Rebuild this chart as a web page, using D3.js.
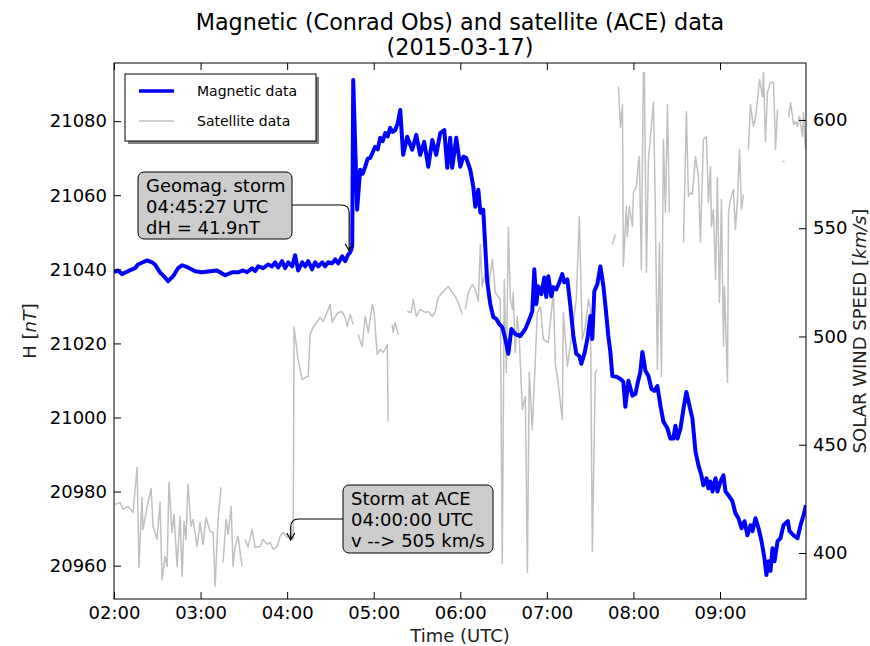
<!DOCTYPE html>
<html>
<head>
<meta charset="utf-8">
<script src="https://cdn.jsdelivr.net/npm/d3@7"></script>
<style>
  html, body { margin: 0; padding: 0; background: #fff; }
  svg { display: block; font-family: "DejaVu Sans", sans-serif; }
</style>
</head>
<body>
<svg id="chart" width="870" height="646"></svg>
<script>
// ---------------- DATA ----------------
// Magnetic H component (Conrad Obs), minutes after 02:00 UTC and value in nT
const magMinutes = [0,2.8,5.5,9.7,14.6,16.6,20.1,22.9,26.4,28.4,31.9,35.4,37.5,40.9,44.4,47.2,51.3,56.2,61,66.6,
  71.4,73.5,77,81.8,86,89.5,92.2,95.7,97.8,99.9,103.3,106.8,109.6,111.7,113.7,116.5,118.6,120.7,123.5,125.5,
  127.6,130.4,132.5,134.6,137.3,139.4,141.5,144.3,146.3,148.4,151.2,153.3,155.4,158.1,160.2,162.3,163.7,165.1,
  165.8,168.5,170.6,172.3,174.1,175.8,177.6,179.3,181,182.8,184.5,186.2,188,189.7,191.4,193.1,194.9,196.6,198.4,200.4,203.2,206.7,209.5,212.2,215,217.8,220.6,
  223.3,226.1,228.9,231,233,234.4,237.2,240,242.1,244.1,246.9,249,250.4,252.5,253.9,255.9,257.3,258.7,260.8,
  262.9,265,267,269.1,271.2,273.3,275.4,278.1,281.6,285.1,288.5,289.9,291.3,292.7,294.1,296.2,298.2,299.6,301,
  303.1,304.5,306.6,308.7,310.7,312.1,314.2,316.3,318.4,320.4,322.5,323.9,326,328.1,330.2,331.5,332.9,335,337.1,
  339.2,340.6,342.6,344,345.4,348.2,351,353,354.4,356.5,359.3,361.4,362.8,364.8,366.2,368.3,370.4,372.5,374.5,
  376.6,378.7,380.8,383.6,385.6,387.7,389.1,390.5,392.6,394.7,396.7,398.8,400.9,403,405.1,407.1,408.5,410.6,412,
  413.4,414.8,416.9,418.2,420.3,422.4,423.8,425.9,428.6,430.7,432.8,434.9,437,439,441.1,442.5,444.6,446.7,448.8,
  450.8,452.2,453.6,455,456.4,457.8,459.9,461.9,464,467,468.2,471,473.7,475.8,477.9,479.6];
const magH = [21039.2,21039.7,21038.7,21039.5,21040.3,21041.3,21041.9,21042.4,21041.9,21041.3,21039.2,21037.8,21036.8,21038.1,21040.3,21041.1,21040.5,21039.5,21039.2,21039.5,
  21039.7,21039.2,21038.4,21039.2,21039.2,21039.7,21039.2,21040.3,21039.5,21040.8,21040.3,21041.3,21040.8,21041.9,21040.5,21042.2,21040.3,21041.9,21040.8,21043.8,
  21039.7,21041.9,21040.8,21042.2,21040,21041.9,21040.8,21041.9,21040.8,21041.9,21041.6,21042.7,21041.6,21043.5,21042.2,21044,21044.6,21046.2,
  21091.1,21056.1,21066.9,21065.8,21067.7,21069.8,21070.1,21071.6,21073.1,21072.4,21075.5,21074.6,21076.8,21075.9,21078.2,21077.1,21077.6,21079.4,21083,21070.9,21075.8,21072.3,21076.3,21070.9,21074.4,21067.7,21074.9,
  21070.9,21076.8,21077.6,21067.4,21075.5,21067.4,21075.5,21067.7,21070.4,21070.1,21066.9,21062.3,21056.9,21061.5,21055.3,21056.1,21046.2,21036.5,21030.6,
  21027.1,21026.6,21025.2,21024.4,21021.2,21017.2,21023.9,21022.5,21022,21023.9,21027.1,21028.7,21040,21030.6,21035.4,21033.3,21037.8,21032.5,21038.1,
  21032.7,21035.2,21034.6,21036.5,21038.7,21036.5,21037.3,21030.1,21022,21017.2,21016.6,21014.5,21017.2,21021.2,21027.4,21021.2,21034.1,21036,21040.8,
  21035.4,21030.1,21022,21017.7,21011.2,21011,21010.4,21009.6,21002.9,21009.9,21005.9,21006.4,21009.1,21012.3,21017.7,21012.6,21011.2,21007.7,21007.2,
  21008.5,21003.2,20998.9,20997,20994.3,20994.3,20997.8,20994.3,20997,21002.4,21006.9,21003.2,20999.7,20990.8,20987,20984.4,20981.7,20983.6,20980.9,
  20982.7,20980,20983.6,20980,20982.7,20984.4,20980,20979,20977.4,20974.1,20972.8,20970.1,20972,20968.2,20970.9,20969.3,20972.8,20970.1,20966.6,
  20962,20957.5,20961.2,20958.6,20964.7,20961.2,20966.6,20967.4,20970.9,20972,20969.3,20968.2,20967.4,20970.9,20973.6,20976.3];

// Solar wind speed (ACE), minutes after 02:00 UTC and km/s (null = data gap)
const aceMinutes = [0.7,4.2,6.2,9.7,13.2,16,17.3,19.4,20.1,22.9,25.7,27.1,29.8,31.9,33.3,35.4,36.8,38.1,40.2,41.6,
  43.7,45.8,47.2,48.6,49.9,51.3,53.4,54.8,57.6,59.6,61.7,63.8,66.6,68.7,70.1,72.1,74.2,74.9,75.6,77.7,79.1,81.2,
  82.5,83.9,86,88.8,89.8,90.9,92.9,95.7,97.8,101.3,103.3,106.1,108.2,110.3,113.1,115.1,117.2,120,122.1,124.2,124.8,
  127.6,130.4,132.5,134.6,135.9,138,140.8,142.9,145,147.7,149.8,151.2,153.3,155.4,158.1,160.2,161.6,163.7,165.8,
  167.5,169.2,172,174.1,176.2,179,180.3,182.4,184.5,186.6,189.4,190,191.4,192.8,193.5,194.9,197,200,203.2,206,
  207.4,209.5,212.2,215.7,217.8,220.6,222.6,224.7,227.5,229.6,231.7,234.4,236.5,238.6,241.4,242.4,243.5,245.5,
  248.3,250.4,252.5,253.9,255.2,257.3,259.4,262.2,264.3,267.7,269.1,270.5,271.9,273.3,274.7,276.1,276.7,278.1,
  279.5,280.9,283,285.1,286.5,287.8,289.9,293.4,295.5,297.6,301,304.5,305.9,307.3,310.7,311.4,314.2,317.7,320.4,
  322.5,324.6,326.7,328.8,330.2,331.5,333.6,335,340,345.4,347.5,348.5,349.6,351,352.4,353,355.1,355.8,357.2,359.3,
  360,362.1,363.4,364.1,365.5,366.9,367.6,369,370.4,371.8,373.9,375.2,376.6,378,379.4,380.8,382.2,383.6,384.9,
  390,394.7,396.7,398.1,399.5,400.9,403,405.1,406.4,408.5,410.6,412,413.4,414.1,415.5,416.9,418.2,419.6,421,
  422.4,423.1,425.2,425.9,427.3,429.3,430.7,432.1,433.5,434.9,436.3,438,439.7,441.1,443.2,444.6,446,447.4,449.5,
  450.1,451.5,452.9,455,457.1,458.5,459.9,461.5,463.3,464.7,466,467.5,468.9,471,472.3,473.7,475.1,477.2,477.9,479.3];
const aceSpeed = [422.4,423.4,420.1,421.5,418.7,439.5,393.3,425.7,410.9,421,429.8,412.3,406.3,423.4,387.8,398.4,393.8,432.6,409.5,417.8,
  393.8,416.9,389.2,414.6,406.3,431.7,412.3,415.5,403,414.1,404,416.4,410,409.5,384.6,415.5,430.3,null,395.7,415.5,408.6,421.5,
  393.8,403,407.7,393.8,null,406.3,402.6,410.9,402.6,403,406.3,404,404.9,401.7,403,407.7,409.5,407.2,408.6,406.3,504.2,
  489.4,480.1,481.1,481.5,500.9,504.2,506.9,508.8,506.9,511.1,514.8,506.5,509.2,511.1,511.5,508.8,504.6,510.2,505.5,
  null,500.9,495.4,509.2,501.8,514.8,511.1,491.7,494,492.6,496.3,460.8,null,505.5,501.8,506.5,500.9,null,511.5,511.1,
  517.1,509.2,512.5,511.1,511.5,509.2,511.5,518,520.3,521.7,523.1,520.3,518.5,515.7,510.2,null,512.5,520.3,
  524,521.7,516.2,542.5,523.1,529.5,521.7,535.6,520.3,517.1,395,526.3,483.4,550.3,517.1,512.5,520.3,492.6,
  509.2,498.6,466.3,472.3,391,483.4,457.1,511.1,513.9,498.6,497.2,520.3,487.1,481.5,461.7,511.1,486.1,503.2,517.1,
  555.4,498.6,504.6,517.1,512.5,400.7,483.4,484.8,null,542.5,547.1,null,615.4,596.5,607.1,532.3,560,546.2,560,550.8,
  566.5,569.3,580.3,583.1,530.9,621.9,621.9,529.5,581.7,592.3,608,557.3,484.8,543.4,481.5,591,557.3,607.1,557.3,
  null,543.4,603.9,564.6,566.5,565.6,583.1,573.9,543.4,591,592.3,561.9,578.5,550.8,558.6,526.3,573.4,515.7,563.3,
  495.4,523.1,478.8,557.3,563.3,567.9,549.4,563.3,586.3,558.6,565.6,null,586.3,607.1,597,601.1,609.4,618.7,610.8,
  621.9,590,612.7,617.3,617.3,586.3,604.8,null,580.8,580.8,null,601.1,608,597.9,599.3,597,601.6,592.3,603.4,586.3];

const magTicks = [20960, 20980, 21000, 21020, 21040, 21060, 21080];
const speedTicks = [400, 450, 500, 550, 600];
const hourTicks = ["02:00","03:00","04:00","05:00","06:00","07:00","08:00","09:00"];

const titleLines = ["Magnetic (Conrad Obs) and satellite (ACE) data", "(2015-03-17)"];
const stormNote = ["Geomag. storm", "04:45:27 UTC", "dH = 41.9nT"];
const aceNote = ["Storm at ACE", "04:00:00 UTC", "v --> 505 km/s"];

// ---------------- CHART ----------------
const day = Date.UTC(2015, 2, 17);
const t = m => new Date(day + 2 * 3600e3 + m * 60e3);
const hm = s => { const [h, mm] = s.split(":").map(Number); return new Date(day + h * 3600e3 + mm * 60e3); };

const L = 114, R = 806, T = 63, B = 599;
const svg = d3.select("#chart");

const x = d3.scaleUtc().domain([t(0), t(479.6)]).range([L, R]);
const yL = d3.scaleLinear().domain([20951, 21095.7]).range([B, T]);
const yR = d3.scaleLinear().domain([378.75, 626.3]).range([B, T]);

const FS = 18;

svg.append("clipPath").attr("id", "clip")
  .append("rect").attr("x", L).attr("y", T).attr("width", R - L).attr("height", B - T);

const mag = magMinutes.map((m, i) => ({ t: t(m), v: magH[i] }));
const ace = aceMinutes.map((m, i) => ({ t: t(m), v: aceSpeed[i] }));

// satellite line
svg.append("path")
  .datum(ace)
  .attr("clip-path", "url(#clip)")
  .attr("fill", "none")
  .attr("stroke", "#c0c0c0")
  .attr("stroke-width", 1.5)
  .attr("stroke-linejoin", "round")
  .attr("d", d3.line().defined(d => d.v != null).x(d => x(d.t)).y(d => yR(d.v)));

// magnetic line
svg.append("path")
  .datum(mag)
  .attr("clip-path", "url(#clip)")
  .attr("fill", "none")
  .attr("stroke", "#0000ff")
  .attr("stroke-width", 4)
  .attr("stroke-linejoin", "round")
  .attr("d", d3.line().x(d => x(d.t)).y(d => yL(d.v)));

// axes
const fmt = d3.utcFormat("%H:%M");
const xb = svg.append("g").attr("transform", `translate(0,${B})`)
  .call(d3.axisBottom(x).tickValues(hourTicks.map(hm)).tickFormat(fmt).tickSize(-7).tickPadding(7));
const xt = svg.append("g").attr("transform", `translate(0,${T})`)
  .call(d3.axisTop(x).tickValues(hourTicks.map(hm)).tickFormat("").tickSize(-7));
const yl = svg.append("g").attr("transform", `translate(${L},0)`)
  .call(d3.axisLeft(yL).tickValues(magTicks).tickFormat(d3.format("d")).tickSize(-7).tickPadding(7));
const yr = svg.append("g").attr("transform", `translate(${R},0)`)
  .call(d3.axisRight(yR).tickValues(speedTicks).tickFormat(d3.format("d")).tickSize(-7).tickPadding(7));

[xb, xt, yl, yr].forEach(g => {
  g.select(".domain").remove();
  g.selectAll(".tick line").attr("stroke", "#000").attr("stroke-width", 1);
  g.selectAll(".tick text").attr("fill", "#000").style("font-size", FS + "px").style("font-family", "DejaVu Sans");
});

// frame
svg.append("rect").attr("x", L).attr("y", T).attr("width", R - L).attr("height", B - T)
  .attr("fill", "none").attr("stroke", "#000").attr("stroke-width", 1);

// title
svg.append("text").attr("x", (L + R) / 2).attr("y", 30).attr("text-anchor", "middle")
  .style("font-size", "22.3px").text(titleLines[0]);
svg.append("text").attr("x", (L + R) / 2).attr("y", 55).attr("text-anchor", "middle")
  .style("font-size", "22.3px").text(titleLines[1]);

// axis labels
svg.append("text").attr("x", (L + R) / 2).attr("y", 642).attr("text-anchor", "middle")
  .attr("fill", "#222").style("font-size", FS + "px").text("Time (UTC)");

const hl = svg.append("text").attr("transform", `translate(36,${(T + B) / 2}) rotate(-90)`)
  .attr("text-anchor", "middle").attr("fill", "#222").style("font-size", FS + "px");
hl.append("tspan").text("H [");
hl.append("tspan").style("font-style", "italic").text("nT");
hl.append("tspan").text("]");

const sl = svg.append("text").attr("transform", `translate(866,${(T + B) / 2}) rotate(-90)`)
  .attr("text-anchor", "middle").attr("fill", "#222").style("font-size", FS + "px");
sl.append("tspan").text("SOLAR WIND SPEED [");
sl.append("tspan").style("font-style", "italic").text("km/s");
sl.append("tspan").text("]");

// annotations
function note(lines, bx, by, bw, bh, path) {
  svg.append("path").attr("d", path).attr("fill", "none").attr("stroke", "#000").attr("stroke-width", 1.2);
  svg.append("rect").attr("x", bx).attr("y", by).attr("width", bw).attr("height", bh)
    .attr("rx", 6).attr("ry", 6).attr("fill", "#cccccc").attr("stroke", "#000").attr("stroke-width", 1);
  lines.forEach((s, i) => {
    svg.append("text").attr("x", bx + 8).attr("y", by + 20 + i * 21)
      .style("font-size", FS + "px").attr("fill", "#000").text(s);
  });
}
// arrow 1: storm onset in magnetic data
{
  const tx = x(t(163)), ty = yL(21045);
  const sy = 205, r = 8;
  const p = `M292,${sy} H${tx - r} Q${tx},${sy} ${tx},${sy + r} V${ty}` +
    ` M${tx - 4},${ty - 7} L${tx},${ty} L${tx + 4},${ty - 7}`;
  note(stormNote, 138, 172, 154, 67, p);
}
// arrow 2: storm at ACE
{
  const tx = x(t(122.5)), ty = yR(406);
  const sy = 519, r = 8;
  const p = `M343,${sy} H${tx + r} Q${tx},${sy} ${tx},${sy + r} V${ty}` +
    ` M${tx - 4},${ty - 7} L${tx},${ty} L${tx + 4},${ty - 7}`;
  note(aceNote, 343, 485, 150, 68, p);
}

// legend
const lg = svg.append("g");
lg.append("rect").attr("x", 128).attr("y", 77).attr("width", 191).attr("height", 67).attr("fill", "#808080");
lg.append("rect").attr("x", 125).attr("y", 74).attr("width", 191).attr("height", 67)
  .attr("fill", "#fff").attr("stroke", "#000").attr("stroke-width", 1);
const legendItems = [
  { label: "Magnetic data", color: "#0000ff", w: 3.5 },
  { label: "Satellite data", color: "#c0c0c0", w: 1.5 }
];
legendItems.forEach((d, i) => {
  const yy = 91 + i * 30;
  lg.append("line").attr("x1", 139).attr("x2", 174).attr("y1", yy).attr("y2", yy)
    .attr("stroke", d.color).attr("stroke-width", d.w);
  lg.append("text").attr("x", 197).attr("y", yy + 5).style("font-size", "14px").text(d.label);
});
</script>
</body>
</html>
